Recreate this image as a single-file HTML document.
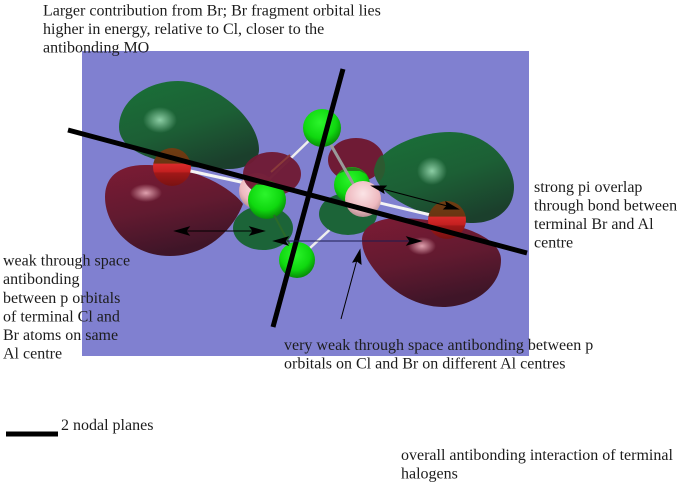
<!DOCTYPE html>
<html>
<head>
<meta charset="utf-8">
<style>
html,body{margin:0;padding:0;background:#fff;width:685px;height:487px;overflow:hidden}
svg{display:block}
text{font-family:"Liberation Serif",serif;font-size:16px;fill:#1c1c1c}
</style>
</head>
<body>
<svg width="685" height="487" viewBox="0 0 685 487" xmlns="http://www.w3.org/2000/svg">
<defs>
<linearGradient id="gl" x1="0.1" y1="0" x2="0.6" y2="1"><stop offset="0" stop-color="#1a7038"/><stop offset=".55" stop-color="#1c5f35"/><stop offset="1" stop-color="#1b3f2c"/></linearGradient>
<linearGradient id="rl" x1="0" y1="0" x2="0.3" y2="1"><stop offset="0" stop-color="#7c1b34"/><stop offset=".55" stop-color="#621a30"/><stop offset="1" stop-color="#3f1528"/></linearGradient>
<radialGradient id="hg"><stop offset="0" stop-color="#a8e8c0" stop-opacity=".8"/><stop offset="1" stop-color="#a8e8c0" stop-opacity="0"/></radialGradient>
<radialGradient id="hr"><stop offset="0" stop-color="#f4b8c4" stop-opacity=".85"/><stop offset="1" stop-color="#f4b8c4" stop-opacity="0"/></radialGradient>
<radialGradient id="cl" cx=".45" cy=".35" r=".7"><stop offset="0" stop-color="#2cf52c"/><stop offset=".6" stop-color="#0fd80f"/><stop offset="1" stop-color="#067a06"/></radialGradient>
<radialGradient id="al" cx=".5" cy=".35" r=".7"><stop offset="0" stop-color="#fbe4e6"/><stop offset=".65" stop-color="#eeb9bf"/><stop offset="1" stop-color="#a98287"/></radialGradient>
<linearGradient id="br" x1="0" y1="0" x2="0" y2="1"><stop offset="0" stop-color="#6e3d12"/><stop offset=".4" stop-color="#6a3512"/><stop offset=".42" stop-color="#d92a2a"/><stop offset=".62" stop-color="#c42020"/><stop offset=".66" stop-color="#a01818"/><stop offset="1" stop-color="#7a1212"/></linearGradient>
</defs>

<rect x="82" y="51" width="447" height="305" fill="#8080d0"/>

<!-- bonds back -->
<line x1="322" y1="128" x2="258" y2="190" stroke="#eee" stroke-width="2.5"/>
<line x1="297" y1="260" x2="363" y2="199" stroke="#eee" stroke-width="2.5"/>

<!-- left lobes -->
<path d="M119,127 C119,100 148,81 178,81 C214,81 259,118 259,150 C259,161 246,169 229,169 C195,169 119,162 119,127Z" fill="url(#gl)"/>
<path d="M105,197 C105,176 120,165 145,165 C190,165 230,186 243,204 C232,232 205,256 170,256 C130,256 105,225 105,197Z" fill="url(#rl)"/>
<ellipse cx="160" cy="120" rx="17" ry="13" fill="url(#hg)"/>
<ellipse cx="146" cy="193" rx="16" ry="9" fill="url(#hr)"/>

<!-- right lobes -->
<ellipse cx="356" cy="160" rx="28" ry="22" fill="#6f1b35"/>
<path d="M374,170 C378,150 415,132 450,132 C490,132 514,165 514,187 C514,210 495,223 473,223 C440,223 374,200 374,170Z" fill="url(#gl)"/>
<path d="M374,170 C376,160 380,156 382,155 C387,165 386,175 379,182 C376,178 374,175 374,170Z" fill="#2c5a30"/>
<ellipse cx="432" cy="171" rx="15" ry="14" fill="url(#hg)"/>
<ellipse cx="348" cy="214" rx="29" ry="21" fill="#1c6438"/>
<path d="M362,240 C362,226 378,218 398,218 C440,218 501,232 501,260 C501,288 472,307 443,307 C415,307 390,290 377,273 C368,262 362,252 362,240Z" fill="url(#rl)"/>
<ellipse cx="422" cy="246" rx="14" ry="9" fill="url(#hr)"/>

<!-- left atoms -->
<line x1="172" y1="167" x2="250" y2="184" stroke="#f4f4f4" stroke-width="3"/>
<circle cx="172" cy="167" r="19" fill="url(#br)"/>
<circle cx="257" cy="191" r="18" fill="url(#al)"/>
<ellipse cx="272" cy="174" rx="29" ry="22" fill="#6f1b35" opacity=".97"/>
<ellipse cx="263" cy="228" rx="30" ry="22" fill="#1c6438"/>
<circle cx="267" cy="200" r="19" fill="url(#cl)"/>
<path d="M251,190 A19,19 0 0 1 283,190 L278,185 L256,185Z" fill="#287a1a"/>
<line x1="274" y1="215" x2="290" y2="245" stroke="#2a6a2a" stroke-width="2"/>
<line x1="271" y1="172" x2="290" y2="155" stroke="#8a3a3a" stroke-width="2"/>

<!-- right atoms -->
<circle cx="322" cy="128" r="19" fill="url(#cl)"/>
<circle cx="297" cy="260" r="18" fill="url(#cl)"/>
<circle cx="352" cy="185" r="18" fill="url(#cl)"/>
<path d="M338,174 A18,18 0 0 1 366,174 L360,171 L345,171Z" fill="#287a1a"/>
<line x1="331" y1="145" x2="355" y2="187" stroke="#9a9a9a" stroke-width="3"/>
<line x1="380" y1="203" x2="435" y2="216" stroke="#f4f4f4" stroke-width="3"/>
<circle cx="363" cy="199" r="18" fill="url(#al)"/>
<circle cx="447" cy="220" r="19" fill="url(#br)"/>

<!-- nodal planes -->
<line x1="68" y1="130" x2="527" y2="253" stroke="#000" stroke-width="5"/>
<line x1="343" y1="69" x2="273" y2="327" stroke="#000" stroke-width="5"/>

<!-- arrows -->
<g stroke="#000" stroke-width="1" fill="#000">
<line x1="178" y1="231" x2="262" y2="231"/>
<path d="M175,231 L189,227 L186,231 L189,235Z"/>
<path d="M264,231 L250,227 L253,231 L250,235Z"/>
<line x1="278" y1="241" x2="418" y2="241" stroke="#1c1c50"/>
<path d="M274,241 L288,237 L285,241 L288,245Z"/>
<path d="M421,241 L407,237 L410,241 L407,245Z"/>
<line x1="375" y1="187" x2="455" y2="208"/>
<path d="M372,186 L386,186 L383,189 L384,193Z"/>
<path d="M458,209 L444,209 L447,206 L446,202Z"/>
<line x1="341" y1="319" x2="358" y2="256"/>
<path d="M360,250 L361,264 L357,261 L353,262Z"/>
</g>

<!-- legend -->
<rect x="6" y="431.5" width="52" height="5" fill="#000"/>

<!-- labels -->
<text x="43" y="15.5">Larger contribution from Br; Br fragment orbital lies</text>
<text x="43" y="34">higher in energy, relative to Cl, closer to the</text>
<text x="43" y="52.5">antibonding MO</text>

<text x="534" y="192">strong pi overlap</text>
<text x="534" y="210.5">through bond between</text>
<text x="534" y="229">terminal Br and Al</text>
<text x="534" y="247.5">centre</text>

<text x="3" y="265.5">weak through space</text>
<text x="3" y="284">antibonding</text>
<text x="3" y="303">between p orbitals</text>
<text x="3" y="321.5">of terminal Cl and</text>
<text x="3" y="340">Br atoms on same</text>
<text x="3" y="358.5">Al centre</text>

<text x="61" y="430">2 nodal planes</text>

<text x="284" y="350">very weak through space antibonding between p</text>
<text x="284" y="368.5">orbitals on Cl and Br on different Al centres</text>

<text x="401" y="460">overall antibonding interaction of terminal</text>
<text x="401" y="478.5">halogens</text>
</svg>
</body>
</html>
